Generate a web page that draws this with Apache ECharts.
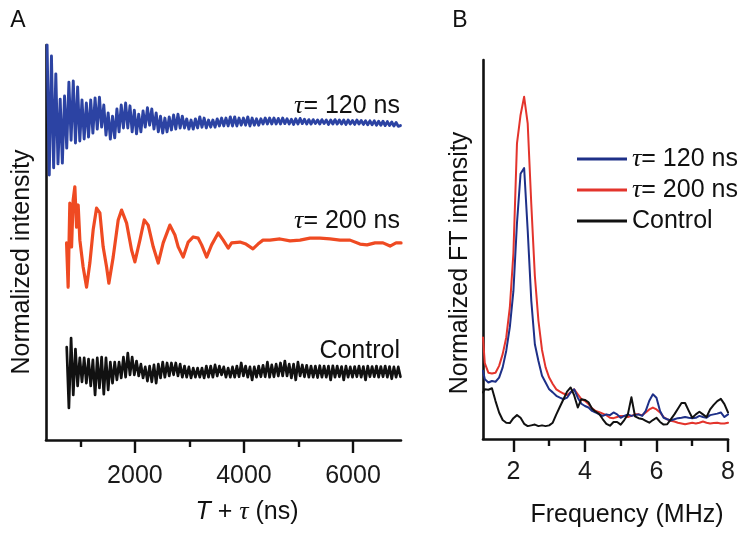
<!DOCTYPE html>
<html><head><meta charset="utf-8">
<script src="https://cdn.jsdelivr.net/npm/echarts@6/dist/echarts.min.js"></script>
<style>html,body{margin:0;padding:0;background:#fff}#c{width:748px;height:538px}</style>
</head><body><div id="c"></div>
<script>
const FONT = '"Liberation Sans", Arial, Helvetica, sans-serif';
const SERIF = '"Liberation Serif", "Times New Roman", serif';

// ---------- Panel A: time-domain traces ----------
const timeTicksMajor = [2000, 4000, 6000];
const timeTicksMinor = [1000, 3000, 5000];
const blueStartNs = 390, blueStepNs = 40;
const blueValues = [
100,67.1,97.2,68.9,92.7,69.9,86.3,70.1,87.1,73.9,
90.6,75.9,90.9,75.2,89.4,75.7,86.1,76.2,85.3,76.7,
86.1,77.7,86.6,78.7,86.8,79.2,84.8,77.2,82.8,76.2,
82.0,76.5,83.8,78.0,84.8,79.0,85.3,79.0,84.6,78.0,
83.5,77.5,82.5,78.0,83.3,79.2,84.1,79.7,83.8,78.7,
82.8,78.0,82.0,77.7,81.5,78.0,81.8,78.5,82.3,78.7,
82.5,79.0,82.0,79.0,81.3,78.7,81.0,78.7,81.3,79.0,
81.8,79.2,81.5,79.0,81.0,79.2,81.0,79.2,81.3,79.5,
81.5,79.5,81.5,79.5,81.8,79.5,81.8,79.5,81.5,79.7,
81.5,79.7,81.8,79.5,81.5,79.7,81.3,79.7,81.3,80.0,
81.5,80.0,81.5,80.0,
81.5,80.0,81.4,80.0,81.5,80.1,81.3,80.0,81.2,79.9,
81.3,80.0,81.4,80.1,81.2,80.0,81.1,80.0,81.1,80.1,
81.0,80.0,81.1,80.1,81.0,79.9,81.0,80.0,81.1,80.0,
81.0,80.0,81.0,79.9,81.0,80.0,80.9,79.9,81.0,80.0,
80.9,79.9,80.8,79.8,80.8,79.8,80.8,79.7,80.7,79.7,
80.7,79.6,80.6,79.6,80.5,79.5,80.4,79.4,79.6
];
const redTimes = [747,776,807,839,868,899,930,960,991,1051,1114,1174,1235,1297,1358,1418,1481,1523,1602,1694,1756,1848,1939,2000,2092,2171,2244,2336,2428,2519,2642,2734,2794,2886,2978,3070,3161,3224,3316,3407,3528,3620,3712,3774,3927,4037,4165,4257,4349,4477,4661,4844,5028,5211,5394,5578,5761,5945,6128,6257,6404,6550,6679,6789,6881];
const redValues = [49.9,38.7,60.0,48.9,60.8,64.1,53.9,59.5,50.6,43.8,38.7,44.8,53.2,58.7,57.5,48.9,43.8,39.7,46.3,55.7,58.2,54.9,48.1,45.1,50.6,55.7,54.4,48.9,44.8,49.9,54.4,51.9,48.9,46.3,50.1,51.4,51.1,49.4,46.3,49.4,52.4,50.6,48.6,49.9,50.1,49.6,48.4,49.6,50.6,50.6,50.9,50.4,50.6,51.1,51.1,50.9,50.6,50.6,49.6,49.4,49.9,49.9,49.1,49.9,49.9];
const controlStartNs = 750, controlStepNs = 40;
const controlValues = [
23.5,8.1,25.8,11.4,23.0,13.7,20.8,14.7,20.8,14.4,
20.5,13.7,20.3,11.4,20.8,13.2,21.0,11.6,20.8,12.7,
19.7,14.4,19.7,15.2,19.7,15.7,21.0,15.9,22.0,16.5,
21.0,16.5,20.0,16.2,19.2,15.7,18.5,14.9,18.7,14.7,
19.0,14.4,19.2,15.7,19.7,15.9,19.5,16.2,19.5,16.5,
19.5,16.2,19.2,15.9,18.7,15.9,18.5,15.7,18.2,15.9,
18.2,15.9,18.2,15.7,18.7,15.9,18.7,15.9,19.0,16.2,
18.7,16.5,18.5,15.9,18.2,15.9,
18.5,15.9,18.7,16.0,19.5,16.2,18.7,15.9,18.5,15.2,
18.5,15.9,18.7,16.0,18.9,16.0,19.7,15.9,19.0,16.0,
19.2,16.2,19.5,16.2,20.0,16.2,19.2,15.7,19.2,15.2,
19.7,16.2,19.0,16.0,18.9,15.9,18.7,15.9,18.7,15.8,
18.8,15.9,18.7,15.9,18.7,15.2,18.8,15.9,18.7,16.0,
18.6,15.2,18.7,15.9,18.5,15.9,18.6,16.0,18.7,15.9,
18.6,15.2,18.7,16.0,18.6,16.0,18.7,15.9,18.6,16.0,
18.7,15.9,18.6,15.5,18.5,15.9,18.5,16.0
];

// ---------- Panel B: FT spectra ----------
const freqTicksMajor = [2, 4, 6, 8];
const freqTicksMinor = [3, 5, 7];
const frequencies = [1.15,1.2,1.3,1.4,1.5,1.6,1.7,1.8,1.9,2.0,2.1,2.2,2.3,2.4,2.5,2.6,2.7,2.8,2.9,3.0,3.1,3.2,3.3,3.4,3.5,3.6,3.7,3.8,3.9,4.0,4.1,4.2,4.3,4.4,4.5,4.6,4.7,4.8,4.9,5.0,5.1,5.2,5.3,5.4,5.5,5.6,5.7,5.8,5.9,6.0,6.1,6.2,6.3,6.4,6.5,6.6,6.7,6.8,6.9,7.0,7.1,7.2,7.3,7.4,7.5,7.6,7.7,7.8,7.9,8.0];
const ft120 = [18.0,15.8,14.9,15.3,15.1,16.2,18.9,23.3,29.5,39.0,57.0,70.0,71.5,55.0,36.5,25.0,20.6,16.7,14.9,13.1,12.3,11.4,10.9,10.5,10.9,12.3,13.1,10.9,9.3,8.7,8.3,7.4,7.0,6.5,6.1,6.5,6.3,7.0,6.5,5.6,6.1,6.5,6.1,6.3,6.5,6.1,7.4,10.1,11.8,10.9,7.4,5.6,5.2,4.9,5.2,5.5,5.6,5.8,5.6,5.5,5.6,6.1,5.8,5.6,6.3,6.5,6.7,7.0,5.8,6.5];
const ft200 = [26.8,20.0,17.5,17.3,17.5,19.3,22.4,26.8,34.7,49.0,78.0,85.5,90.3,83.2,62.0,43.0,31.2,23.5,18.9,16.2,14.5,13.1,12.5,12.0,11.6,12.3,13.1,11.8,10.5,10.1,9.2,8.1,7.4,7.1,6.7,6.3,5.6,5.5,5.8,6.1,6.1,5.8,6.1,6.5,6.5,6.3,7.0,7.8,8.3,7.8,7.0,5.8,5.2,4.8,4.6,4.3,4.1,3.9,4.1,4.3,4.1,4.3,4.6,4.3,4.1,4.2,4.3,4.1,4.1,4.3];
const ftControl = [12.3,13.1,13.0,13.4,10.0,7.0,5.0,4.3,4.2,5.5,6.3,5.6,4.0,3.4,3.6,3.8,3.4,3.6,3.4,3.6,4.3,6.5,8.5,10.5,12.5,13.6,11.5,8.3,10.5,10.3,9.7,8.0,7.2,6.6,5.2,4.0,3.5,4.5,4.5,3.8,5.0,6.5,11.0,6.0,5.5,5.3,4.8,4.3,5.0,5.6,4.5,3.8,3.9,5.2,6.5,8.0,9.5,9.5,7.5,5.6,6.5,7.2,6.5,5.8,7.8,9.0,10.0,10.6,9.2,7.0];
const legendNames = ['τ= 120 ns', 'τ= 200 ns', 'Control'];

// ---------- build ----------
const bluePairs = blueValues.map((v, i) => [blueStartNs + i * blueStepNs, v]);
const redPairs = redValues.map((v, i) => [redTimes[i], v]);
const controlPairs = controlValues.map((v, i) => [controlStartNs + i * controlStepNs, v]);
const zip = (xs, ys) => ys.map((v, i) => [xs[i], v]);

const AX = '#111';
function majorX(grid, min, max, ticks, margin) {
  return {
    gridIndex: grid, type: 'value', min: min, max: max, position: 'bottom',
    axisLine: { show: true, onZero: false, lineStyle: { color: AX, width: 2.6 } },
    axisTick: { show: true, customValues: ticks, length: 13, lineStyle: { color: AX, width: 2.4 } },
    axisLabel: { show: true, customValues: ticks, margin: margin, fontSize: 25, fontFamily: FONT, color: '#1a1a1a',
      formatter: v => String(v) },
    splitLine: { show: false }
  };
}
function minorX(grid, min, max, ticks) {
  return {
    gridIndex: grid, type: 'value', min: min, max: max, position: 'bottom',
    axisLine: { show: false, onZero: false },
    axisTick: { show: true, customValues: ticks, length: 7, lineStyle: { color: AX, width: 2.4 } },
    axisLabel: { show: false },
    splitLine: { show: false }
  };
}
function plainY(grid) {
  return {
    gridIndex: grid, type: 'value', min: 0, max: 100,
    axisLine: { show: true, onZero: false, lineStyle: { color: AX, width: 2.6 } },
    axisTick: { show: false }, axisLabel: { show: false }, splitLine: { show: false }
  };
}
function line(name, xi, yi, data, color, width, z) {
  return {
    type: 'line', name: name, xAxisIndex: xi, yAxisIndex: yi, data: data,
    symbol: 'none', showSymbol: false, silent: true, animation: false, z: z,
    lineStyle: { color: color, width: width, join: 'round', cap: 'round' }, itemStyle: { color: color }
  };
}
const tauRich = { t: { fontStyle: 'italic', fontFamily: SERIF, fontSize: 26, fill: '#111' } };
function txt(x, y, text, opts) {
  return Object.assign({
    type: 'text', x: x, y: y, silent: true,
    style: Object.assign({ text: text, fontSize: 25, fontFamily: FONT, fill: '#111',
      align: 'center', verticalAlign: 'middle', rich: tauRich }, opts && opts.style)
  }, opts && opts.el);
}

const chart = echarts.init(document.getElementById('c'), null, { renderer: 'canvas' });
chart.setOption({
  animation: false,
  backgroundColor: '#fff',
  grid: [
    { left: 46, top: 45, width: 355, height: 395 },
    { left: 483, top: 60, width: 245, height: 379 }
  ],
  xAxis: [
    majorX(0, 370, 6880, timeTicksMajor, 24),
    minorX(0, 370, 6880, timeTicksMinor),
    majorX(1, 1.15, 8, freqTicksMajor, 21),
    minorX(1, 1.15, 8, freqTicksMinor)
  ],
  yAxis: [plainY(0), plainY(1)],
  legend: {
    data: legendNames, orient: 'vertical', left: 572, top: 140,
    itemWidth: 50, itemHeight: 3, itemGap: 3, icon: 'rect', selectedMode: false,
    textStyle: { fontSize: 25, fontFamily: FONT, color: '#111', lineHeight: 28,
      rich: { t: { fontStyle: 'italic', fontFamily: SERIF, fontSize: 26, color: '#111', lineHeight: 28 } } },
    formatter: n => n.replace('τ', '{t|τ}')
  },
  graphic: [
    txt(18, 21, 'A', { style: { fontSize: 23 } }),
    txt(460, 21, 'B', { style: { fontSize: 23 } }),
    txt(22, 262, 'Normalized intensity', { el: { rotation: Math.PI / 2 } }),
    txt(460, 263, 'Normalized FT intensity', { el: { rotation: Math.PI / 2 } }),
    txt(247, 512, '{i|T} + {t|τ} (ns)', { style: { rich: {
      i: { fontStyle: 'italic', fontFamily: FONT, fontSize: 25, fill: '#111' },
      t: { fontStyle: 'italic', fontFamily: SERIF, fontSize: 26, fill: '#111' } } } }),
    txt(627, 515, 'Frequency (MHz)'),
    txt(400, 106, '{t|τ}= 120 ns', { style: { align: 'right' } }),
    txt(400, 221, '{t|τ}= 200 ns', { style: { align: 'right' } }),
    txt(400, 351, 'Control', { style: { align: 'right' } })
  ],
  series: [
    line('A-120', 0, 0, bluePairs, '#2c43a3', 2.9, 3),
    line('A-200', 0, 0, redPairs, '#ef4a22', 3.2, 3),
    line('A-control', 0, 0, controlPairs, '#111111', 2.7, 3),
    line('τ= 200 ns', 2, 1, zip(frequencies, ft200), '#e3342c', 2, 3),
    line('τ= 120 ns', 2, 1, zip(frequencies, ft120), '#1e3088', 2, 4),
    line('Control', 2, 1, zip(frequencies, ftControl), '#111111', 2, 5)
  ]
});
</script>
</body></html>
